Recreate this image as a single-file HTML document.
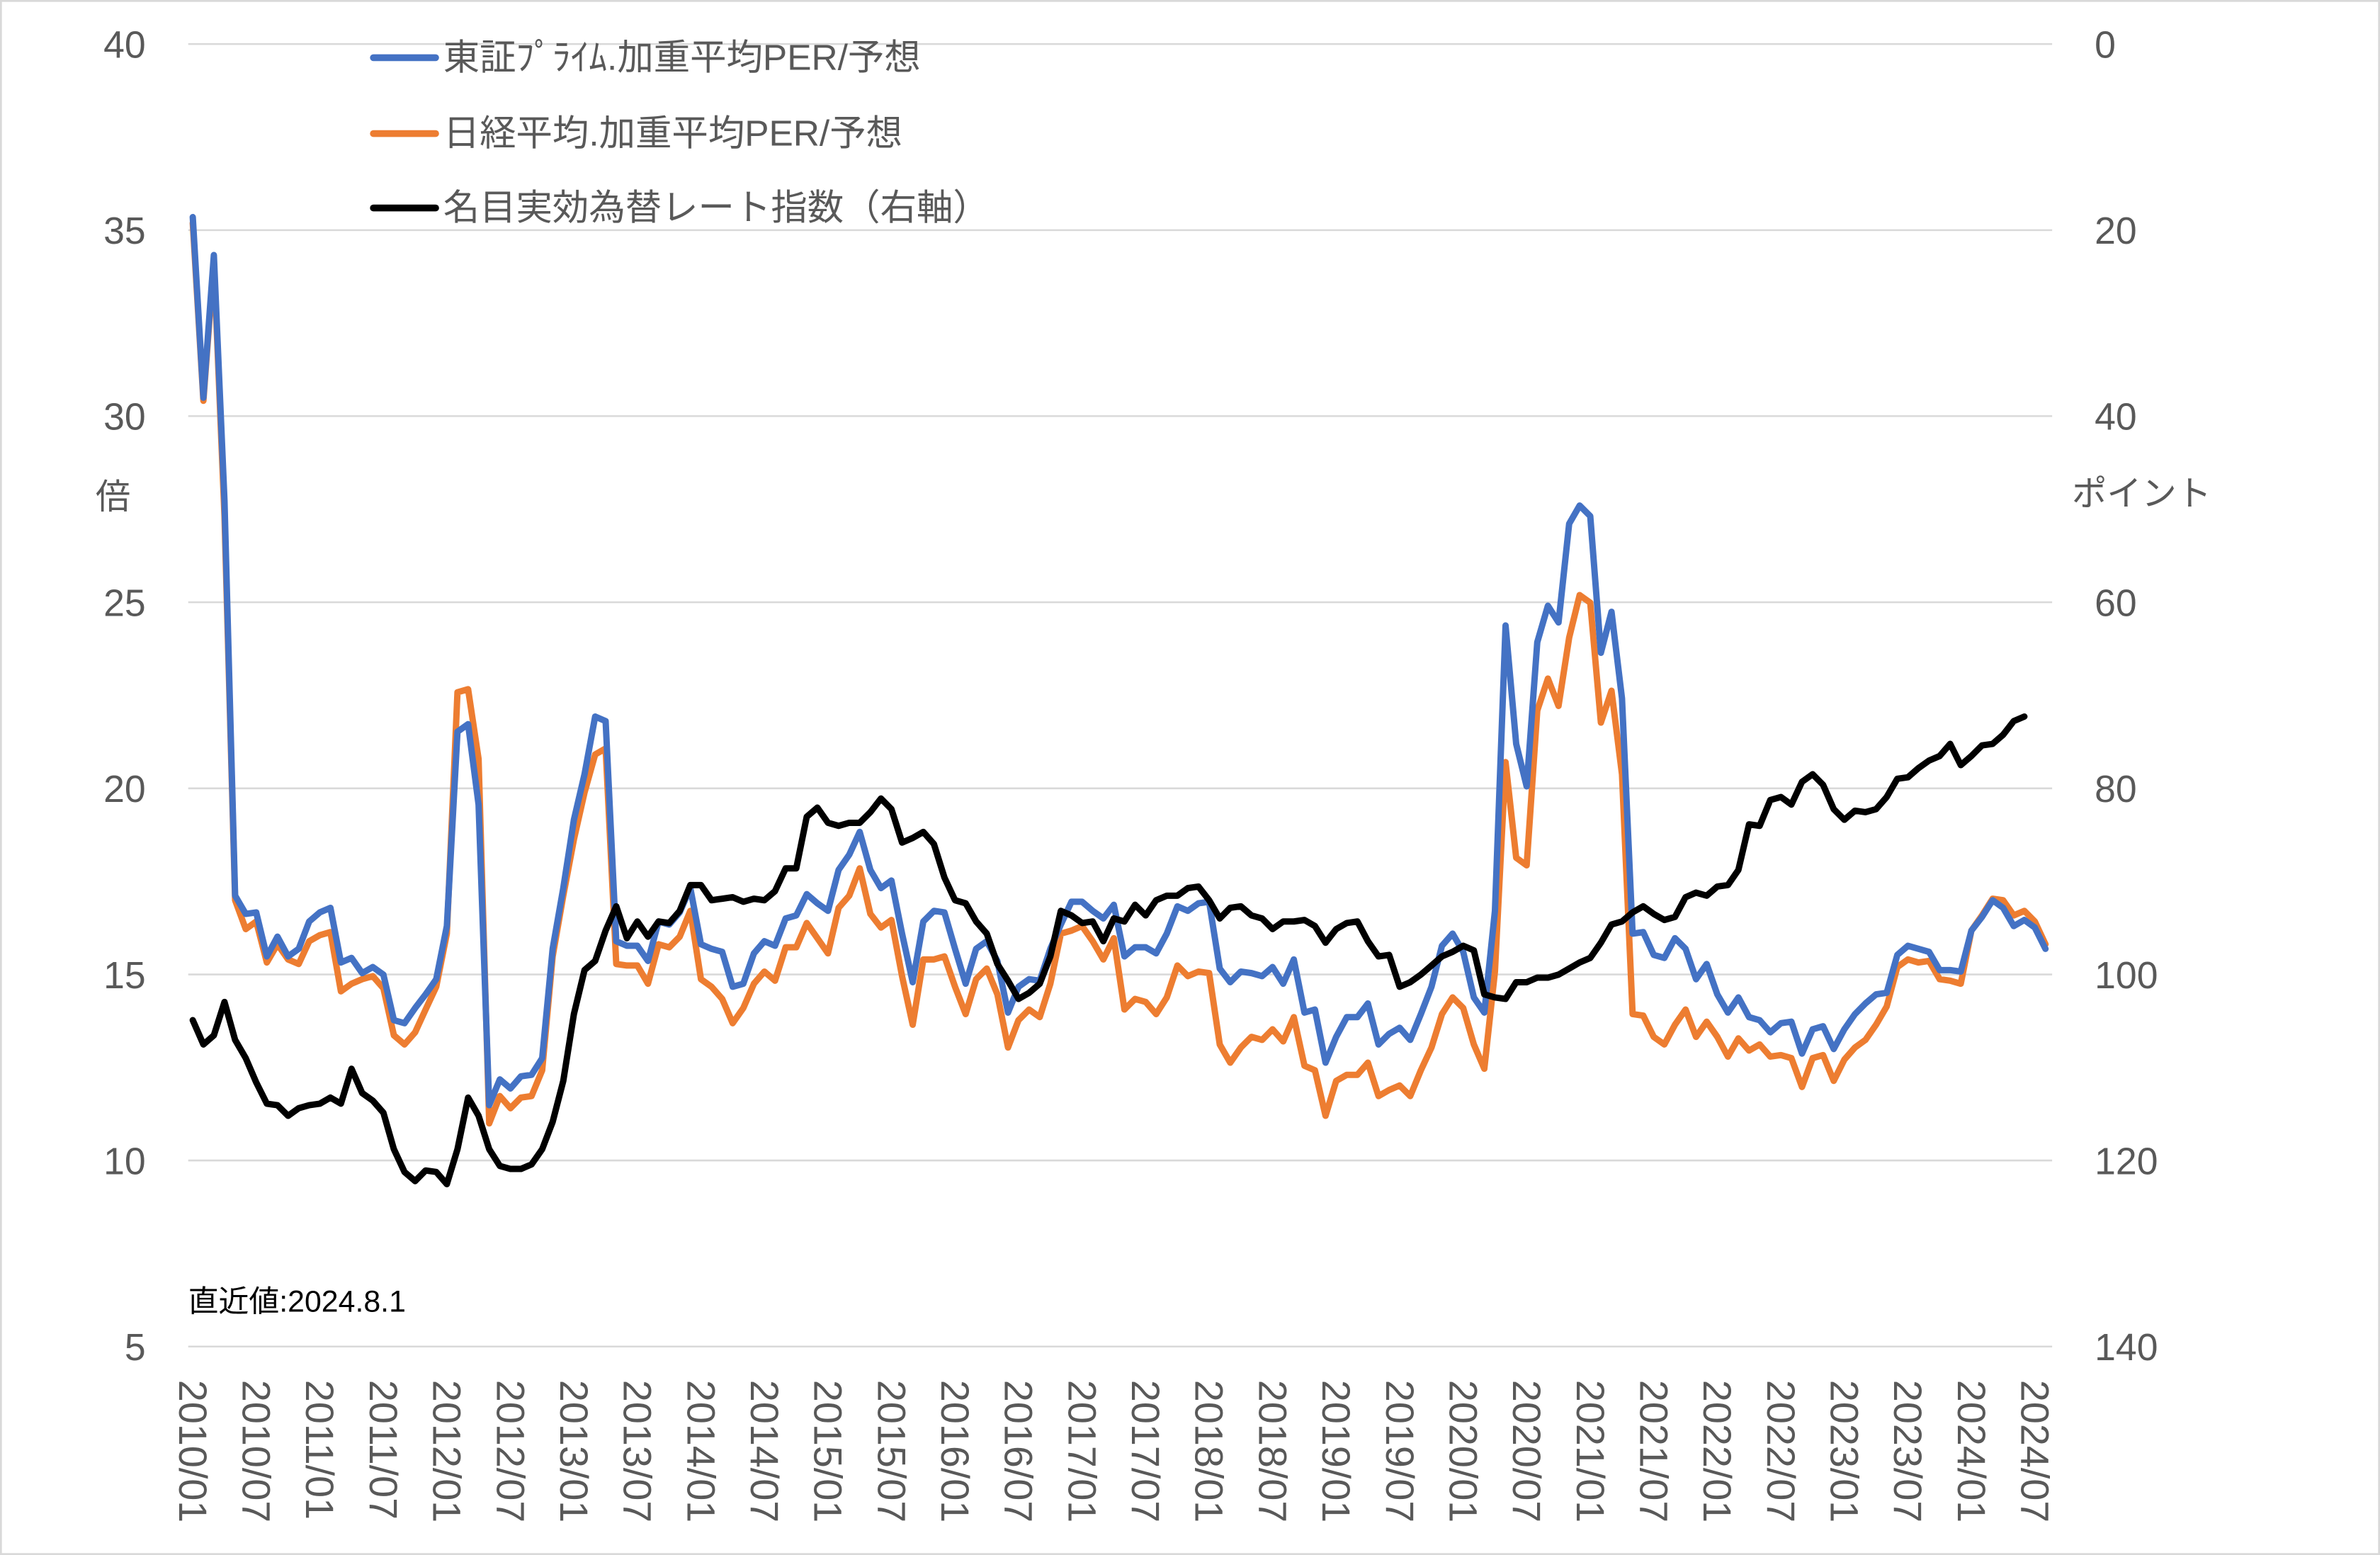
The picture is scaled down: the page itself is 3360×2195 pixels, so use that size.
<!DOCTYPE html>
<html><head><meta charset="utf-8"><style>
html,body{margin:0;padding:0;background:#fff}
svg{display:block}
text{font-family:"Liberation Sans","Noto Sans CJK JP",sans-serif}
</style></head><body>
<svg id="s" width="3360" height="2195" viewBox="0 0 1568 1024.3" preserveAspectRatio="none" xmlns="http://www.w3.org/2000/svg">
<rect x="0.5" y="0.5" width="1567" height="1023.3" fill="#fff" stroke="#d9d9d9" stroke-width="1.5"/>
<g stroke="#d9d9d9" stroke-width="1.2">
<line x1="124" y1="29" x2="1352" y2="29"/><line x1="124" y1="151.6" x2="1352" y2="151.6"/>
<line x1="124" y1="274.1" x2="1352" y2="274.1"/><line x1="124" y1="396.7" x2="1352" y2="396.7"/>
<line x1="124" y1="519.3" x2="1352" y2="519.3"/><line x1="124" y1="641.9" x2="1352" y2="641.9"/>
<line x1="124" y1="764.4" x2="1352" y2="764.4"/><line x1="124" y1="887" x2="1352" y2="887"/>
</g>
<g fill="#595959" font-size="25" text-anchor="end">
<text x="96" y="38">40</text><text x="96" y="160.6">35</text><text x="96" y="283">30</text><text x="96" y="405.7">25</text>
<text x="96" y="528.3">20</text><text x="96" y="650.9">15</text><text x="96" y="773.4">10</text><text x="96" y="896">5</text>
</g>
<g fill="#595959" font-size="25" text-anchor="start">
<text x="1380" y="38">0</text><text x="1380" y="160.6">20</text><text x="1380" y="283">40</text><text x="1380" y="405.7">60</text>
<text x="1380" y="528.3">80</text><text x="1380" y="650.9">100</text><text x="1380" y="773.4">120</text><text x="1380" y="896">140</text>
</g>
<text x="63" y="335" font-size="23" fill="#595959">倍</text>
<text x="1365" y="333" font-size="23" fill="#595959">ポイント</text>
<text x="124" y="864" font-size="20" fill="#000">直近値:2024.8.1</text>
<g id="xl" fill="#595959" font-size="26"></g>
<g id="lines" fill="none" stroke-width="4.2" stroke-linejoin="round" stroke-linecap="round"></g>
<g stroke-width="4.5" stroke-linecap="round">
<line x1="246" y1="38" x2="287" y2="38" stroke="#4472c4"/>
<line x1="246" y1="88" x2="287" y2="88" stroke="#ed7d31"/>
<line x1="246" y1="137" x2="287" y2="137" stroke="#000"/>
</g>
<g fill="#595959" font-size="24">
<text x="292" y="46">東証ﾌﾟﾗｲﾑ.加重平均PER/予想</text>
<text x="292" y="96">日経平均.加重平均PER/予想</text>
<text x="292" y="145">名目実効為替レート指数（右軸）</text>
</g>
</svg>
<script>
var B=[143,262,168,330,590,602,601,630,617,630,625,607,601,598,634,631,641,637,642,672,674,664,655,645,610,482,477,530,728,711,717,709,708,697,625,585,540,510,472,475,620,623,623,633,607,609,601,585,622,625,627,650,648,628,620,623,605,603,589,595,600,573,563,548,573,585,580,615,647,607,600,601,625,648,625,620,633,667,650,645,646,625,609,594,594,600,605,596,630,624,624,628,615,597,600,595,594,638,647,640,641,643,637,648,632,667,665,700,683,670,670,661,688,681,677,685,668,650,623,615,627,657,667,600,412,490,518,423,399,410,345,333,340,430,403,460,615,614,629,631,618,625,645,635,655,667,657,670,672,680,674,673,694,678,676,691,678,668,661,655,654,629,623,625,627,639,639,640,613,604,593,598,610,606,611,625];
var O=[147,264,172,340,593,612,607,634,622,632,635,620,616,614,653,648,645,643,651,682,688,680,665,650,615,456,454,500,740,722,730,723,722,705,630,590,553,522,497,493,635,636,636,648,622,624,617,600,645,650,658,674,664,648,640,646,624,624,608,618,628,598,590,572,602,611,606,643,675,632,632,630,650,668,645,638,655,690,672,665,670,648,615,613,610,620,632,618,665,658,660,668,657,636,643,640,641,688,700,690,683,685,678,686,670,702,705,735,712,708,708,700,722,718,715,722,705,690,668,657,664,688,704,640,502,565,570,468,447,465,420,392,397,476,455,510,668,669,683,688,675,665,683,673,683,696,684,692,688,696,695,697,716,697,695,712,698,690,685,675,663,637,632,634,633,645,646,648,613,603,592,593,603,600,607,622];
var K=[672,688,682,660,685,697,713,727,728,735,730,728,727,723,727,704,720,725,733,757,772,778,771,772,780,757,723,735,757,768,770,770,767,757,739,712,668,639,633,613,597,618,607,617,607,608,600,583,583,593,592,591,594,592,593,587,572,572,538,532,542,544,542,542,535,526,533,555,552,548,556,578,593,595,607,615,635,646,658,654,648,630,600,603,608,607,620,605,607,596,603,593,590,590,585,584,593,605,598,597,603,605,612,607,607,606,610,621,612,608,607,620,630,629,650,647,642,636,630,627,623,626,655,657,658,647,647,644,644,642,638,634,631,621,609,607,601,597,602,606,604,591,588,590,584,583,573,543,544,527,525,530,515,510,517,533,540,534,535,533,525,513,512,506,501,498,490,504,498,491,490,484,475,472];
var NS="http://www.w3.org/2000/svg";
function pl(a,c){var p=a.map(function(y,i){return (127+i*6.975).toFixed(1)+","+y}).join(" ");
var e=document.createElementNS(NS,"polyline");e.setAttribute("points",p);e.setAttribute("stroke",c);document.getElementById("lines").appendChild(e);}
pl(O,"#ed7d31");pl(B,"#4472c4");pl(K,"#000");
var g=document.getElementById("xl");
for(var i=0;i<30;i++){var yr=2010+Math.floor(i/2),m=i%2?"07":"01";var x=127+i*41.85;
var t=document.createElementNS(NS,"text");t.setAttribute("transform","translate("+(x-9)+",909) rotate(90)");t.textContent=yr+"/"+m;g.appendChild(t);}
</script>
</body></html>
